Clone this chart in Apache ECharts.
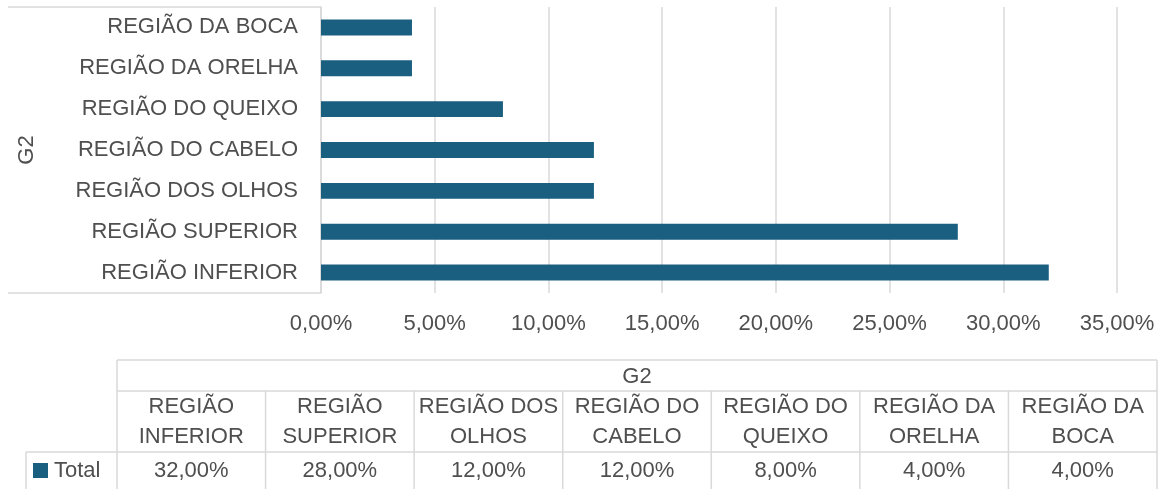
<!DOCTYPE html>
<html>
<head>
<meta charset="utf-8">
<script src="https://cdn.jsdelivr.net/npm/echarts@6/dist/echarts.min.js"></script>
<style>
  html, body { margin: 0; padding: 0; background: #fff; }
  #chart { width: 1166px; height: 489px; }
</style>
</head>
<body>
<div id="chart"></div>
<script>
const categories = ['REGIÃO INFERIOR', 'REGIÃO SUPERIOR', 'REGIÃO DOS OLHOS', 'REGIÃO DO CABELO', 'REGIÃO DO QUEIXO', 'REGIÃO DA ORELHA', 'REGIÃO DA BOCA']
const totals = [0.32, 0.28, 0.12, 0.12, 0.08, 0.04, 0.04]
const seriesName = 'Total'
const fieldName = 'G2'

const FONT = "'Liberation Sans', Arial, sans-serif"
const TEXT = '#4f4f4f'
const LINE = '#d9d9d9'
const BAR = '#1a5e80'

const pct = v => ( v * 100 ).toFixed( 2 ).replace( '.', ',' ) + '%'

// data table under the plot
const tLeft = 117, tRight = 1157, legLeft = 26
const rows = [360, 391, 452, 489]
const colW = ( tRight - tLeft ) / categories.length

const hline = ( x1, x2, y ) => ( { type : 'line', silent : true, shape : { x1, y1 : y, x2, y2 : y }, style : { stroke : LINE, lineWidth : 1.5 } } )
const vline = ( x, y1, y2 ) => ( { type : 'line', silent : true, shape : { x1 : x, y1, x2 : x, y2 }, style : { stroke : LINE, lineWidth : 1.5 } } )
const txt = ( x, y, text, align ) => ( {
  type : 'text', silent : true, x, y,
  style : { text, fill : TEXT, font : '22px ' + FONT, align : align || 'center', verticalAlign : 'middle', lineHeight : 30 }
} )

const graphics = [
  // box around the category labels
  hline( 8, 321, 7 ),
  hline( 8, 321, 293 ),
  hline( tLeft, tRight, rows[0] ),
  hline( tLeft, tRight, rows[1] ),
  hline( legLeft, tRight, rows[2] ),
  vline( tLeft, rows[0], rows[3] ),
  vline( tRight, rows[0], rows[3] ),
  vline( legLeft, rows[2], rows[3] ),
  txt( ( tLeft + tRight ) / 2, ( rows[0] + rows[1] ) / 2 + 1, fieldName ),
  { type : 'rect', silent : true, shape : { x : 33, y : 463, width : 15, height : 15 }, style : { fill : BAR } },
  txt( 54, ( rows[2] + rows[3] ) / 2, seriesName, 'left' )
]
categories.forEach( ( c, i ) => {
  const x = tLeft + colW * i
  if ( i > 0 ) graphics.push( vline( x, rows[1], rows[3] ) )
  const cut = c.lastIndexOf( ' ' )
  graphics.push( txt( x + colW / 2, ( rows[1] + rows[2] ) / 2, c.slice( 0, cut ) + '\n' + c.slice( cut + 1 ) ) )
  graphics.push( txt( x + colW / 2, ( rows[2] + rows[3] ) / 2, pct( totals[i] ) ) )
} )

const chart = echarts.init( document.getElementById( 'chart' ) )
chart.setOption( {
  animation : false,
  textStyle : { fontFamily : FONT },
  grid : { left : 321, right : 49, top : 7, bottom : 196, outerBoundsMode : 'none', containLabel : false },
  xAxis : {
    type : 'value',
    min : 0,
    max : 0.35,
    interval : 0.05,
    axisLine : { show : false },
    axisTick : { show : false },
    splitLine : { lineStyle : { color : LINE, width : 1.5 } },
    axisLabel : { formatter : pct, color : TEXT, fontSize : 22, margin : 20 }
  },
  yAxis : {
    type : 'category',
    data : categories,
    name : fieldName,
    nameLocation : 'middle',
    nameRotate : 90,
    nameGap : 283,
    nameTextStyle : { color : TEXT, fontSize : 22 },
    axisLine : { show : true, lineStyle : { color : LINE, width : 1.5 } },
    axisTick : { show : false },
    axisLabel : { color : TEXT, fontSize : 22, margin : 23 }
  },
  series : [
    {
      name : seriesName,
      type : 'bar',
      data : totals,
      barWidth : '39%',
      itemStyle : { color : BAR }
    }
  ],
  graphic : graphics
} )
</script>
</body>
</html>
